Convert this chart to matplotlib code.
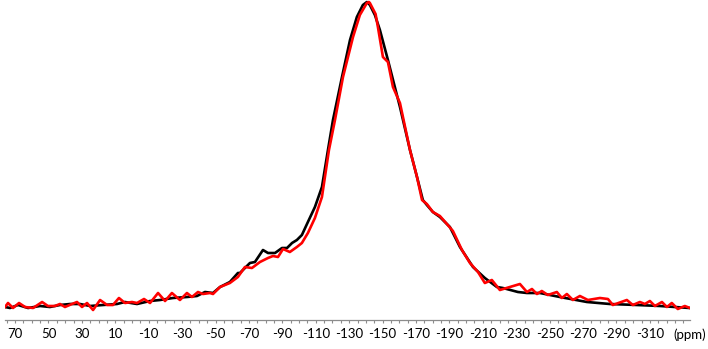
import matplotlib
matplotlib.use("Agg")
import matplotlib.pyplot as plt
from matplotlib.ticker import MultipleLocator

# chemical shift (ppm) and intensity (a.u.)
black_ppm = [76.0, 73.0, 68.2, 62.2, 55.0, 49.1, 43.1, 37.1, 31.1, 25.1, 17.3, 9.0, 4.2, -3.0,
             -10.8, -16.8, -24.5, -32.9, -38.9, -43.7, -48.5, -52.7, -58.6, -63.4, -64.6,
             -70.6, -73.6, -78.4, -81.4, -85.6, -89.8, -92.8, -95.8, -98.7, -101.7, -105.3,
             -109.5, -113.7, -117.3, -120.3, -125.7, -130.5, -134.6, -138.2, -140.6, -142.4,
             -145.4, -148.4, -153.2, -160.4, -166.4, -170.6, -174.1, -176.5, -180.1, -184.3,
             -190.3, -196.3, -204.1, -211.2, -218.4, -222.0, -231.0, -236.4, -244.2, -256.1,
             -272.3, -286.0, -302.2, -316.0, -333.9]
black_int = [0, -1, 2, -1, 1, 0, 2, 3, 3, 1, 2, 3, 5, 3,
             6, 7, 9, 10, 11, 15, 14, 20, 25, 34, 34,
             44, 45, 57, 54, 54, 59, 59, 64, 67, 72, 85,
             100, 120, 157, 187, 230, 267, 290, 302, 305, 302,
             292, 277, 247, 200, 157, 130, 107, 102, 95, 90,
             80, 60, 40, 29, 20, 19, 15, 14, 14, 10,
             5, 3, 2, 1, -1]

red_ppm = [76.0, 74.2, 71.2, 67.6, 64.0, 59.2, 53.8, 50.3, 46.1, 43.1, 40.1, 35.9, 32.9, 29.9,
           26.9, 23.3, 19.1, 14.9, 11.4, 7.8, 4.2, 0.0, -3.0, -7.2, -10.8, -15.6, -19.8,
           -23.9, -28.7, -32.9, -35.9, -39.5, -42.5, -46.7, -48.5, -52.7, -58.6, -63.4,
           -67.6, -71.8, -76.6, -81.4, -84.4, -87.4, -90.4, -94.5, -98.7, -101.7, -105.3,
           -109.5, -113.7, -117.9, -121.5, -126.3, -132.3, -136.4, -140.6, -141.8, -142.4,
           -145.8, -147.2, -150.2, -153.2, -156.2, -160.4, -166.4, -170.6, -173.6, -176.5,
           -180.1, -184.3, -188.5, -192.1, -197.5, -202.3, -207.1, -211.2, -215.4, -220.2,
           -226.2, -232.2, -236.4, -239.4, -242.4, -245.3, -248.9, -254.3, -257.3, -260.3,
           -263.9, -268.1, -272.9, -280.1, -284.9, -287.8, -296.2, -299.8, -304.0, -307.0,
           -310.0, -313.0, -317.2, -320.2, -323.1, -326.7, -330.9, -333.9]
red_int = [0, 4, -1, 4, 0, -1, 5, 1, 1, 3, 0, 3, 5, 0,
           4, -3, 7, 2, 2, 9, 4, 5, 4, 8, 4, 14, 6,
           14, 7, 14, 10, 15, 13, 14, 13, 20, 24, 30,
           40, 39, 45, 49, 51, 50, 58, 55, 60, 64, 74,
           89, 110, 157, 187, 230, 270, 292, 304, 305, 304,
           293, 280, 250, 245, 220, 204, 157, 130, 107, 103,
           95, 91, 83, 76, 57, 44, 35, 24, 27, 17,
           20, 23, 15, 18, 13, 16, 12, 15, 9, 13,
           7, 11, 7, 9, 8, 2, 7, 2, 5, 3,
           6, 1, 5, 0, 4, -2, 1, -1]

major_ticks = list(range(70, -311, -20))

fig = plt.figure(figsize=(7.08, 3.49), dpi=100)
ax = fig.add_axes([5 / 708, 29 / 349, 685 / 708, 320 / 349])

ax.plot(black_ppm, black_int, color="black", lw=1.9, solid_joinstyle="round")
ax.plot(red_ppm, red_int, color="#ff0000", lw=1.9, solid_joinstyle="round")

ax.set_xlim(76, -334)
ax.set_ylim(-13, 307)

for s in ["top", "right", "left"]:
    ax.spines[s].set_visible(False)
ax.spines["bottom"].set_color("#8c8c8c")
ax.spines["bottom"].set_linewidth(0.9)
ax.set_yticks([])

ax.set_xticks(major_ticks)
ax.set_xticklabels([str(t) for t in major_ticks])
ax.xaxis.set_minor_locator(MultipleLocator(5))
ax.tick_params(axis="x", which="both", direction="out", length=2.5, width=0.8,
               color="#8c8c8c", labelsize=9.5, pad=3.5)
for lbl in ax.get_xticklabels():
    lbl.set_fontfamily("Lato")

ax.text(1.0, -14.5 / 320, "(ppm)", transform=ax.transAxes, ha="center", va="center",
        fontsize=9.5, family="Lato")

fig.savefig("out.png", dpi=100)
